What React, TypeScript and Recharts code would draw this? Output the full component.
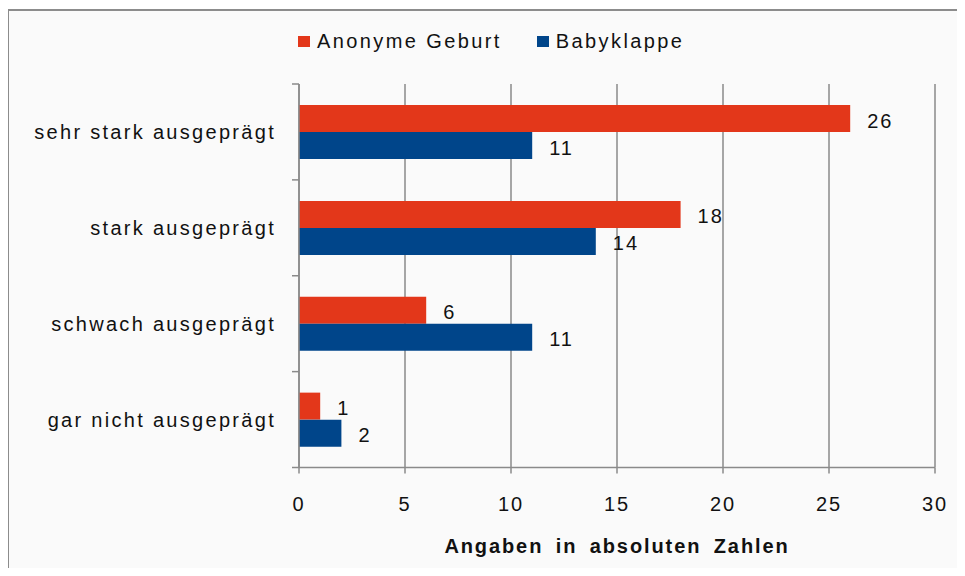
import { BarChart, Bar, XAxis, YAxis, CartesianGrid, Legend, LabelList } from "recharts"

// Ausprägung (Kategorien von oben nach unten)
const categories = [
  "sehr stark ausgeprägt",
  "stark ausgeprägt",
  "schwach ausgeprägt",
  "gar nicht ausgeprägt",
]
const anonymeGeburt = [26, 18, 6, 1]
const babyklappe = [11, 14, 11, 2]
const xTicks = [0, 5, 10, 15, 20, 25, 30]

const RED = "#e3371a"
const BLUE = "#00458a"
const AXIS = "#8a8a8a"
const FONT = '"Liberation Sans", Arial, sans-serif'

const data = categories.map((name, i) => ({
  name,
  anonym: anonymeGeburt[i],
  baby: babyklappe[i],
}))

// Kategorie-Label + Teilstriche an den Bandgrenzen (Excel-Stil)
const CategoryTick = (props: any) => {
  const { x, y, payload, index, visibleTicksCount } = props
  const half = payload?.offset || 48
  const ax = x + 23
  return (
    <g>
      <text
        x={x}
        y={y}
        dy={7}
        textAnchor="end"
        fontSize={20}
        letterSpacing={2.3}
        fill="#111"
        fontFamily={FONT}
      >
        {payload.value}
      </text>
      <line x1={ax - 7} x2={ax} y1={y - half} y2={y - half} stroke={AXIS} strokeWidth={1.5} />
      {index === (visibleTicksCount ?? categories.length) - 1 && (
        <line x1={ax - 7} x2={ax} y1={y + half} y2={y + half} stroke={AXIS} strokeWidth={1.5} />
      )}
    </g>
  )
}

const LegendBox = ({ payload }: any) => (
  <div style={{ display: "flex", alignItems: "center", fontFamily: FONT, fontSize: 20, letterSpacing: 2.4, color: "#111" }}>
    {(payload || []).map((p: any) => (
      <div key={p.value} style={{ display: "flex", alignItems: "center", marginRight: 35 }}>
        <span style={{ width: 12, height: 11, background: p.color, display: "inline-block", marginRight: 7 }} />
        <span>{p.value}</span>
      </div>
    ))}
  </div>
)

export default function App() {
  return (
    <div style={{ position: "relative", width: 965, height: 576, margin: -8, overflow: "hidden", background: "#fff" }}>
      <div
        style={{
          position: "absolute",
          left: 7,
          top: 9,
          width: 1000,
          height: 620,
          border: "2px solid #8c8c8c",
          background: "#fafafa",
        }}
      />
      <div style={{ position: "absolute", left: 0, top: 0 }}>
        <BarChart
          width={965}
          height={576}
          data={data}
          layout="vertical"
          margin={{ top: 84, right: 30, left: 0, bottom: 0 }}
          barSize={27}
          barGap={0}
        >
          <CartesianGrid horizontal={false} vertical stroke={AXIS} strokeWidth={1.5} />
          <XAxis
            type="number"
            domain={[0, 30]}
            ticks={xTicks}
            height={108.5}
            stroke={AXIS}
            strokeWidth={1.5}
            tickSize={6}
            tickMargin={23}
            tick={{ fontSize: 20, fill: "#111", fontFamily: FONT, letterSpacing: 2 }}
            label={{
              value: "Angaben  in absoluten  Zahlen",
              position: "insideBottom",
              offset: 23,
              fontSize: 20,
              fontWeight: "bold",
              fill: "#111",
              fontFamily: FONT,
              letterSpacing: 1.9,
              wordSpacing: 5,
            }}
          />
          <YAxis
            type="category"
            dataKey="name"
            width={299}
            stroke={AXIS}
            strokeWidth={1.5}
            tickLine={false}
            tickSize={7}
            tickMargin={16}
            tick={<CategoryTick />}
            interval={0}
          />
          <Legend
            layout="horizontal"
            verticalAlign="middle"
            align="center"
            content={<LegendBox />}
            wrapperStyle={{ position: "absolute", top: 30, left: 298, width: 500, height: 24 }}
          />
          <Bar dataKey="anonym" name="Anonyme Geburt" fill={RED} isAnimationActive={false}>
            <LabelList dataKey="anonym" position="right" offset={17} fontSize={20} fill="#111" fontFamily={FONT} letterSpacing={2} dy={2} />
          </Bar>
          <Bar dataKey="baby" name="Babyklappe" fill={BLUE} isAnimationActive={false}>
            <LabelList dataKey="baby" position="right" offset={17} fontSize={20} fill="#111" fontFamily={FONT} letterSpacing={2} dy={2} />
          </Bar>
        </BarChart>
      </div>
    </div>
  )
}
